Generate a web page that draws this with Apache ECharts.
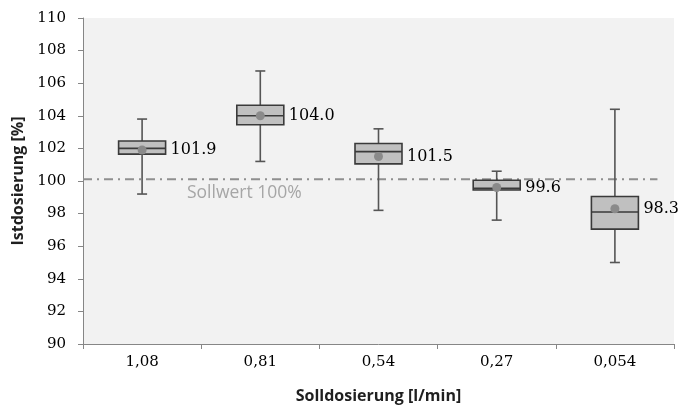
<!DOCTYPE html>
<html>
<head>
<meta charset="utf-8">
<script src="https://cdn.jsdelivr.net/npm/echarts@6/dist/echarts.min.js"></script>
<style>html,body{margin:0;padding:0;background:#fff}#c{width:680px;height:409px}</style>
</head>
<body>
<div id="c"></div>
<script>
var categories = ['1,08', '0,81', '0,54', '0,27', '0,054'];
var whiskerMin = [99.2, 101.2, 98.2, 97.6, 95.0];
var q1 = [101.65, 103.45, 101.05, 99.45, 97.05];
var median = [102.0, 104.0, 101.8, 99.55, 98.1];
var q3 = [102.45, 104.65, 102.3, 100.05, 99.05];
var whiskerMax = [103.8, 106.75, 103.2, 100.6, 104.4];
var means = [101.9, 104.0, 101.5, 99.6, 98.3];
var sollwert = 100.1;
var sollwertLine = [[0, sollwert], [4.86, sollwert]];
var yTicks = [90, 92, 94, 96, 98, 100, 102, 104, 106, 108, 110];

var boxData = categories.map(function (c, i) {
  return [i, whiskerMin[i], q1[i], median[i], q3[i], whiskerMax[i], means[i]];
});

var chart = echarts.init(document.getElementById('c'));
var serif = '"DejaVu Serif", serif';
chart.setOption({
  animation: false,
  grid: { left: 83, right: 6, top: 18, bottom: 63, show: true, backgroundColor: '#f2f2f2', borderWidth: 0 },
  xAxis: [{
    type: 'category',
    data: categories,
    name: 'Solldosierung [l/min]',
    nameLocation: 'middle',
    nameGap: 44,
    nameTextStyle: { fontFamily: '"Open Sans"', fontWeight: 'bold', fontSize: 16, color: '#1f1f1f' },
    axisLine: { lineStyle: { color: '#868686', width: 1 } },
    axisTick: { show: true, length: 5, lineStyle: { color: '#868686' } },
    axisLabel: { fontFamily: serif, fontSize: 15, color: '#000', margin: 11 },
    splitLine: { show: false }
  }, {
    type: 'value', min: 0, max: 5, show: false
  }],
  yAxis: {
    type: 'value',
    min: yTicks[0], max: yTicks[yTicks.length - 1], interval: 2,
    name: 'Istdosierung [%]',
    nameLocation: 'middle',
    nameGap: 50,
    nameTextStyle: { fontFamily: '"Open Sans"', fontWeight: 'bold', fontSize: 16, color: '#1f1f1f' },
    axisLine: { show: true, lineStyle: { color: '#868686', width: 1 } },
    axisTick: { show: true, length: 5, lineStyle: { color: '#868686' } },
    axisLabel: { fontFamily: serif, fontSize: 15, color: '#000', margin: 17 },
    splitLine: { show: false }
  },
  graphic: [{
    type: 'text', left: 187, top: 184, z: 5,
    style: { text: 'Sollwert 100%', font: '17.5px "Open Sans"', fill: '#a6a6a6' }
  }],
  series: [{
    type: 'line',
    xAxisIndex: 1,
    data: sollwertLine,
    symbol: 'none',
    z: 1,
    lineStyle: { color: '#8f8f8f', width: 2, type: [9, 5, 2, 5] }
  }, {
    type: 'custom',
    z: 3,
    data: boxData,
    encode: { x: 0, y: [1, 2, 3, 4, 5, 6] },
    renderItem: function (params, api) {
      var idx = api.value(0);
      var x = api.coord([idx, 0])[0];
      var yMin = api.coord([idx, api.value(1)])[1];
      var yQ1 = api.coord([idx, api.value(2)])[1];
      var yMed = api.coord([idx, api.value(3)])[1];
      var yQ3 = api.coord([idx, api.value(4)])[1];
      var yMax = api.coord([idx, api.value(5)])[1];
      var yMean = api.coord([idx, api.value(6)])[1];
      var hw = 23.5, cw = 5;
      var wStyle = { stroke: '#555', lineWidth: 1.6 };
      var bStyle = { stroke: '#3a3a3a', lineWidth: 1.6 };
      return {
        type: 'group',
        children: [
          { type: 'line', shape: { x1: x, y1: yMax, x2: x, y2: yMin }, style: wStyle },
          { type: 'line', shape: { x1: x - cw, y1: yMax, x2: x + cw, y2: yMax }, style: wStyle },
          { type: 'line', shape: { x1: x - cw, y1: yMin, x2: x + cw, y2: yMin }, style: wStyle },
          { type: 'rect', shape: { x: x - hw, y: yQ3, width: hw * 2, height: yQ1 - yQ3 }, style: { fill: '#c0c0c0', stroke: '#3a3a3a', lineWidth: 1.6 } },
          { type: 'line', shape: { x1: x - hw, y1: yMed, x2: x + hw, y2: yMed }, style: bStyle },
          { type: 'circle', shape: { cx: x, cy: yMean, r: 4.5 }, style: { fill: '#8a8a8a' } },
          { type: 'text', x: x + hw + 5, y: yMean, style: { text: api.value(6).toFixed(1), font: '16px ' + serif, fill: '#000', verticalAlign: 'middle', align: 'left' } }
        ]
      };
    }
  }]
});
</script>
</body>
</html>
